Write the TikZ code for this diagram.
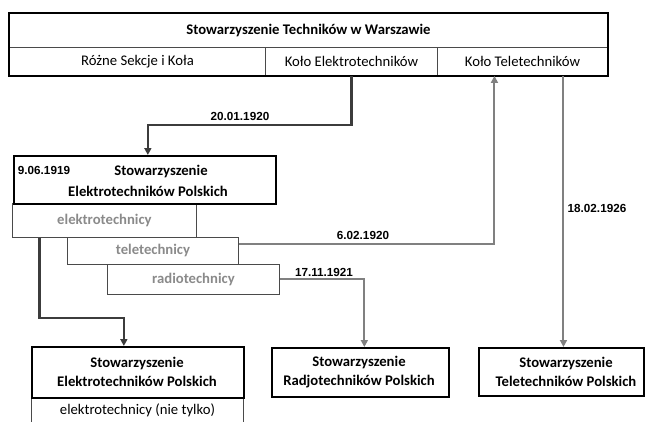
\documentclass[tikz,border=0pt]{standalone}
\usepackage{fontspec}
\setmainfont{Carlito}
\newfontfamily\datefont{Liberation Sans}
\usetikzlibrary{arrows.meta,calc}
\definecolor{darkline}{HTML}{3C3C3C}
\definecolor{greyline}{HTML}{808080}
\definecolor{greytext}{HTML}{8A8A8A}
\definecolor{subborder}{HTML}{4A4A4A}
\begin{document}
\begin{tikzpicture}[x=1pt,y=-1pt,
  cell/.style={draw=subborder, line width=0.9pt, anchor=north west, inner sep=0pt,
    font=\fontsize{14.7}{16}\selectfont},
  mainbox/.style={draw=black, line width=1.7pt, anchor=north west, inner sep=0pt, fill=white},
  subbox/.style={draw=subborder, line width=0.9pt, anchor=north west, inner sep=0pt,
    text=greytext, font=\bfseries\fontsize{14.7}{16}\selectfont},
  btext/.style={font=\bfseries\fontsize{14.7}{19.5}\selectfont, inner sep=0pt, align=center},
  datelbl/.style={font=\datefont\bfseries\fontsize{11.7}{13}\selectfont, inner sep=0pt},
  darkconn/.style={draw=darkline, line width=2.2pt, -{Triangle[length=7pt,width=7pt]}},
  greyconn/.style={draw=greyline, line width=2pt, -{Triangle[length=7pt,width=7pt]}}]
\useasboundingbox (0,0) rectangle (646,421);

% top table
\node[cell, minimum width=598pt, minimum height=34pt, font=\bfseries\fontsize{14.7}{16}\selectfont] (title) at (9,13) {Stowarzyszenie Techników w Warszawie};
\node[cell, minimum width=256pt, minimum height=28pt] (c1) at (9,47) {Różne Sekcje i Koła};
\node[cell, minimum width=172pt, minimum height=28pt] (c2) at (265,47) {Koło Elektrotechników};
\node[cell, minimum width=170pt, minimum height=28pt] (c3) at (437,47) {Koło Teletechników};
\draw[line width=2.4pt] (title.north west) rectangle (c3.south east);

% SEP 1919 with sub-boxes
\node[subbox, minimum width=184pt, minimum height=34pt] (elek) at (12,203) {elektrotechnicy};
\node[subbox, minimum width=171pt, minimum height=27pt] (tele) at (67,237) {teletechnicy};
\node[subbox, minimum width=172pt, minimum height=30pt] (radio) at (107,264) {radiotechnicy};
\node[mainbox, minimum width=262pt, minimum height=48pt] (sep) at (13,155) {};
\node[datelbl] (d1919) at (44,170) {9.06.1919};
\node[btext] (sepa) at (161,171) {Stowarzyszenie};
\node[btext] (sepb) at (148,191) {Elektrotechników Polskich};

% bottom boxes
\node[cell, minimum width=212pt, minimum height=26pt] (sep2sub) at (31,397) {elektrotechnicy (nie tylko)};
\node[mainbox, minimum width=212pt, minimum height=51pt] (sep2) at (31,346) {};
\node[btext] (sep2t) at (137,372) {Stowarzyszenie\\Elektrotechników Polskich};
\node[mainbox, minimum width=177pt, minimum height=49pt] (srp) at (271,347) {};
\node[btext] (srpt) at (359,372) {Stowarzyszenie\\Radjotechników Polskich};
\node[mainbox, minimum width=165pt, minimum height=48pt] (stp) at (478,347) {};
\node[btext] (stpt) at (566,372) {Stowarzyszenie\\Teletechników Polskich};

% connectors
\draw[darkconn] (c2.south) -- ++(0,49) -| ([xshift=3pt]sep.north);
\node[datelbl] (d1920a) at (240,116) {20.01.1920};

\draw[greyconn] ([yshift=7pt]tele.east) -| ([xshift=-28pt]c3.south);
\node[datelbl] (d1920b) at (363,235) {6.02.1920};

\draw[greyconn] (radio.east) -| ([xshift=4pt]srp.north);
\node[datelbl] (d1921) at (324,272) {17.11.1921};

\coordinate (ktdown) at ([xshift=41pt]c3.south);
\draw[greyconn] (ktdown) -- (ktdown |- stp.north);
\node[datelbl] (d1926) at (597,208) {18.02.1926};

\draw[darkconn] ([xshift=-65pt]elek.south) -- ++(0,80) -| ([xshift=-14pt]sep2.north);
\end{tikzpicture}
\end{document}
